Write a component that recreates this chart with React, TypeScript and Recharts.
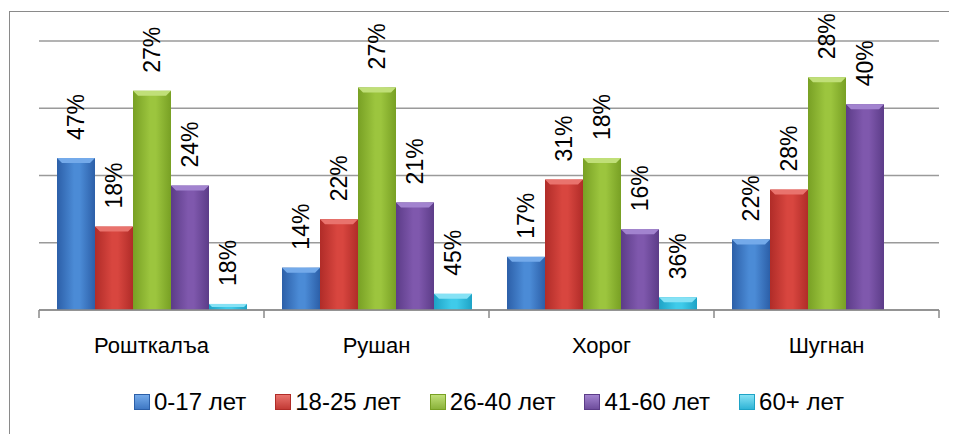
import React from "react";
import { BarChart, Bar, XAxis, YAxis, CartesianGrid, Legend, LabelList } from "recharts";

const CATEGORIES = ["Рошткалъа", "Рушан", "Хорог", "Шугнан"];
const SERIES_NAMES = ["0-17 лет", "18-25 лет", "26-40 лет", "41-60 лет", "60+ лет"];

// bar heights (one gridline = 10)
const AGE_0_17 = [22.6, 6.3, 7.9, 10.5];
const AGE_18_25 = [12.4, 13.5, 19.4, 17.9];
const AGE_26_40 = [32.6, 33.1, 22.6, 34.6];
const AGE_41_60 = [18.5, 16.0, 12.0, 30.6];
const AGE_60_PLUS = [0.9, 2.4, 1.9, null];

// the printed labels (they do not follow the bar heights)
const LABEL_0_17 = ["47%", "14%", "17%", "22%"];
const LABEL_18_25 = ["18%", "22%", "31%", "28%"];
const LABEL_26_40 = ["27%", "27%", "18%", "28%"];
const LABEL_41_60 = ["24%", "21%", "16%", "40%"];
const LABEL_60_PLUS = ["18%", "45%", "36%", ""];

const Y_TICKS = [0, 10, 20, 30, 40];
const EDGE_TICKS = [0, 1, 2, 3, 4];

const VALUES = [AGE_0_17, AGE_18_25, AGE_26_40, AGE_41_60, AGE_60_PLUS];
const LABELS = [LABEL_0_17, LABEL_18_25, LABEL_26_40, LABEL_41_60, LABEL_60_PLUS];

const COLORS = [
  { edge: "#2c5fa8", mid: "#4b8bd6", top: "#74aaea", legend: "#3f78c4" },
  { edge: "#b02c28", mid: "#d8463f", top: "#e9736d", legend: "#c23a35" },
  { edge: "#78a024", mid: "#9cc53e", top: "#c0df78", legend: "#8ab23a" },
  { edge: "#5c3c88", mid: "#7f58ad", top: "#a283cf", legend: "#6e4d9c" },
  { edge: "#1ea3c6", mid: "#3fcbea", top: "#86e2f5", legend: "#2fb4d6" },
];

const FONT = "'Liberation Sans', Arial, sans-serif";

const data = CATEGORIES.map((name, i) => {
  const row: any = { name, idx: i + 0.5 };
  VALUES.forEach((v, s) => {
    row["s" + s] = v[i];
  });
  return row;
});

function BevelBar(props: any) {
  const { x, y, width, height, s } = props;
  if (!height || height <= 0) return null;
  const b = Math.min(5, height / 2, width / 2);
  const c = COLORS[s];
  return (
    <g>
      <rect x={x} y={y} width={width} height={height} fill={`url(#grad${s})`} />
      <polygon
        points={`${x},${y} ${x + width},${y} ${x + width - b},${y + b} ${x + b},${y + b}`}
        fill={c.top}
      />
    </g>
  );
}

function makeLabel(s: number) {
  return (props: any) => {
    const vb = props.viewBox || props;
    const { index } = props;
    const text = LABELS[s][index];
    if (!text) return null;
    const cx = vb.x + vb.width / 2;
    const cy = vb.y - 18;
    return (
      <text
        x={cx}
        y={cy}
        dy="0.36em"
        transform={`rotate(-90 ${cx} ${cy})`}
        textAnchor="start"
        fontFamily={FONT}
        fontSize={23}
        fill="#000"
      >
        {text}
      </text>
    );
  };
}

function CategoryTick(props: any) {
  const { x, y, payload } = props;
  return (
    <text x={x} y={y + 27} textAnchor="middle" fontFamily={FONT} fontSize={22} fill="#000">
      {payload.value}
    </text>
  );
}

const EmptyTick = () => <g />;

function LegendContent() {
  return (
    <div
      style={{
        height: 60,
        display: "flex",
        justifyContent: "center",
        alignItems: "flex-start",
        paddingTop: 22,
        boxSizing: "border-box",
        fontFamily: FONT,
        fontSize: 24,
        color: "#000",
      }}
    >
      {SERIES_NAMES.map((n, i) => (
        <div key={n} style={{ display: "flex", alignItems: "center", marginRight: i < 4 ? 29 : 0 }}>
          <span
            style={{
              width: 16,
              height: 16,
              marginRight: 4,
              background: `linear-gradient(to bottom, ${COLORS[i].top}, ${COLORS[i].legend})`,
              border: `1px solid ${COLORS[i].edge}`,
              boxSizing: "border-box",
            }}
          />
          <span style={{ lineHeight: "24px" }}>{n}</span>
        </div>
      ))}
    </div>
  );
}

export default function App() {
  return (
    <div style={{ position: "relative", width: 949, height: 426, overflow: "hidden", background: "#fff" }}>
      <div
        style={{
          position: "absolute",
          left: 1,
          top: 3,
          width: 1100,
          height: 600,
          border: "1px solid #8a8a8a",
        }}
      />
      <div style={{ position: "absolute", left: 0, top: 0 }}>
        <BarChart
          width={949}
          height={426}
          data={data}
          margin={{ top: 33, right: 18, left: 31, bottom: 6 }}
          barCategoryGap="8%"
          barGap={0}
        >
          <defs>
            {COLORS.map((c, i) => (
              <linearGradient key={i} id={`grad${i}`} x1="0" y1="0" x2="1" y2="0">
                <stop offset="0%" stopColor={c.edge} />
                <stop offset="45%" stopColor={c.mid} />
                <stop offset="60%" stopColor={c.mid} />
                <stop offset="100%" stopColor={c.edge} />
              </linearGradient>
            ))}
          </defs>
          <CartesianGrid vertical={false} stroke="#9a9a9a" strokeWidth={1.5} />
          <YAxis hide domain={[0, 40]} ticks={Y_TICKS} />
          <XAxis
            xAxisId="b"
            dataKey="name"
            height={50}
            axisLine={false}
            tickLine={false}
            tick={<CategoryTick />}
            interval={0}
          />
          <XAxis
            xAxisId="a"
            dataKey="idx"
            type="number"
            domain={[0, 4]}
            ticks={EDGE_TICKS}
            interval={0}
            height={8}
            tick={EmptyTick}
            tickSize={8}
            tickLine={{ stroke: "#8a8a8a", strokeWidth: 1.5 }}
            axisLine={{ stroke: "#8a8a8a", strokeWidth: 1.5 }}
          />
          {SERIES_NAMES.map((n, s) => (
            <Bar
              key={n}
              xAxisId="b"
              dataKey={"s" + s}
              name={n}
              fill={COLORS[s].mid}
              isAnimationActive={false}
              shape={(p: any) => <BevelBar {...p} s={s} />}
            >
              <LabelList dataKey={"s" + s} content={makeLabel(s)} />
            </Bar>
          ))}
          <Legend verticalAlign="bottom" height={60} content={<LegendContent />} />
        </BarChart>
      </div>
    </div>
  );
}
